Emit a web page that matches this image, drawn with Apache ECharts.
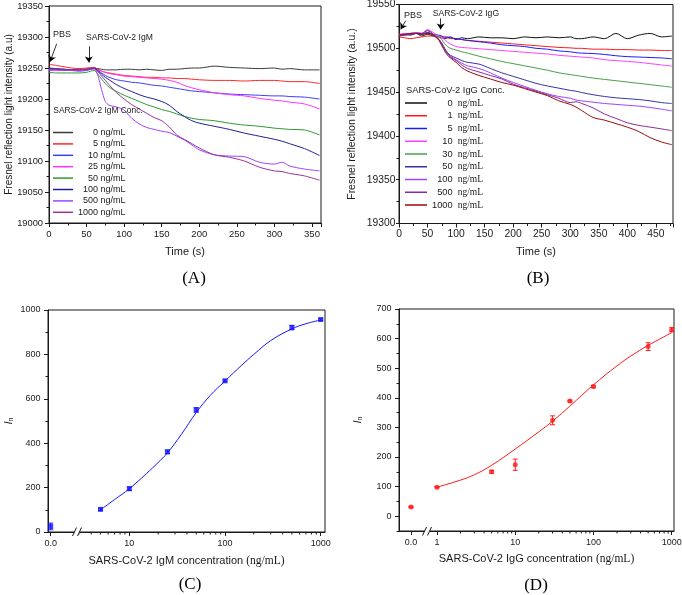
<!DOCTYPE html>
<html><head><meta charset="utf-8">
<script src="https://cdn.jsdelivr.net/npm/echarts@6/dist/echarts.min.js"></script>
<style>html,body{margin:0;padding:0;background:#fff}#c{width:682px;height:595px}</style>
</head><body><div id="c"></div>
<script>
// ---------- Panel A data (IgM sensorgrams) ----------
const timeA = [0,10,20,30,40,50,60,65,70,75,80,90,100,110,120,130,140,150,160,170,180,190,200,220,240,260,280,300,310,320,340,360];
const concLabelsA = ['0','5','10','25','50','100','500','1000'];
const igm0    = [19248,19248,19248,19247,19248,19248,19249,19249,19248,19247,19247,19247,19248,19248,19247,19248,19247,19246,19248,19248,19249,19250,19250,19253,19251,19250,19249,19250,19248,19249,19247,19247];
const igm5    = [19256,19254,19252,19250,19249,19250,19251,19248,19245,19243,19242,19240,19238,19237,19236,19235,19235,19234,19234,19233,19233,19232,19231,19230,19230,19229,19230,19230,19229,19228,19228,19225];
const igm10   = [19249,19248,19247,19246,19245,19246,19249,19246,19242,19238,19235,19231,19229,19227,19226,19224,19222,19221,19219,19217,19215,19213,19212,19210,19208,19207,19206,19205,19205,19204,19203,19200];
const igm25   = [19246,19246,19246,19246,19246,19248,19250,19247,19245,19243,19241,19239,19237,19236,19235,19234,19233,19232,19230,19227,19222,19218,19215,19210,19207,19205,19201,19198,19197,19195,19192,19184];
const igm50   = [19243,19242,19242,19242,19242,19243,19246,19240,19232,19225,19219,19212,19206,19201,19196,19191,19187,19183,19180,19176,19172,19169,19167,19165,19161,19158,19156,19153,19152,19151,19150,19142];
const igm100  = [19250,19249,19248,19247,19247,19248,19250,19246,19240,19235,19231,19223,19217,19212,19207,19203,19200,19196,19190,19180,19172,19165,19161,19156,19151,19145,19140,19135,19132,19128,19120,19109];
const igm500  = [19247,19247,19246,19246,19247,19247,19249,19238,19215,19196,19190,19187,19182,19169,19160,19154,19151,19148,19146,19140,19134,19126,19118,19110,19108,19107,19098,19095,19098,19092,19087,19084];
const igm1000 = [19248,19248,19247,19247,19247,19248,19249,19244,19237,19230,19223,19210,19200,19191,19184,19177,19170,19165,19155,19142,19135,19128,19121,19110,19106,19100,19090,19084,19083,19080,19076,19069];
const yTicksA = {min:19000, max:19350, step:50};
const xTicksA = {min:0, max:362, step:50};

// ---------- Panel B data (IgG sensorgrams) ----------
const timeB = [0,10,20,30,40,50,60,70,75,80,85,90,100,110,120,140,160,180,200,220,240,260,280,300,310,320,340,360,380,400,420,440,460,478];
const concLabelsB = ['0','1','5','10','30','50','100','500','1000'];
const igg0    = [19514,19516,19515,19517,19514,19516,19514,19513,19512,19511,19512,19513,19510,19512,19511,19513,19512,19512,19511,19513,19512,19513,19512,19513,19511,19511,19513,19511,19517,19511,19515,19517,19513,19514];
const igg1    = [19513,19512,19511,19512,19513,19514,19514,19513,19513,19512,19512,19511,19511,19510,19509,19508,19507,19506,19505,19504,19503,19502,19501,19500.5,19500,19500,19499,19499,19498.5,19498.5,19498,19498,19497.5,19497.5];
const igg5    = [19515,19516,19516,19517,19516,19518,19516,19515,19514,19513,19513,19512,19511,19510,19509,19507.5,19506,19504,19503,19502,19500,19499,19497,19496,19495,19494.5,19494,19493,19491.5,19490.5,19490,19489.5,19489,19488];
const igg10   = [19516,19517,19517,19518,19517,19521,19518,19514,19512,19510,19507,19505,19502,19501,19500.5,19499.5,19498.5,19497.5,19496.5,19495.5,19494.5,19493.5,19492,19491,19490.5,19490,19489,19487,19486,19485,19484,19482.5,19481,19479.5];
const igg30   = [19515,19516,19516,19517,19516,19517,19516,19513,19510,19505,19502,19500,19498,19496,19494.5,19491,19488,19485,19482.5,19480,19477.5,19475,19472,19470,19469,19468,19466,19464.5,19463,19461.5,19460,19458.5,19457,19455.5];
const igg50   = [19514,19515,19516,19517,19516,19518,19515,19510,19506,19500,19495,19492,19489,19486,19484,19482,19477,19472,19468,19464,19460,19457,19454.5,19452,19451,19449.5,19447,19445,19443.5,19442.5,19441.5,19440,19438,19437];
const igg100  = [19515,19516,19517,19518,19517,19521,19516,19510,19505,19499,19494,19491,19487,19483,19480,19477,19472,19466,19461,19456.5,19452,19448,19445,19443,19441,19440,19438.5,19437,19436,19435,19434,19432.5,19430.5,19428.5];
const igg500  = [19515,19515,19516,19517,19517,19520,19516,19510,19505,19499,19494,19490,19486,19481,19477,19473,19469,19465,19459,19455,19451,19447,19443,19438,19439,19437,19432,19425,19420,19415,19412,19410,19408,19406];
const igg1000 = [19515,19516,19517,19517,19516,19517,19515,19509,19503,19497,19492,19489,19484,19478,19474,19469,19465,19461,19458,19454,19450,19446,19440,19436,19433,19429,19421,19418,19414,19410,19405,19398,19393,19390];
const yTicksB = {min:19300, max:19550, step:50};
const xTicksB = {min:0, max:480, step:50};

// ---------- Panel C data (IgM calibration) ----------
const concC = [5,10,25,50,100,500,1000];
const inC   = [102,195,361,550,681,921,957];
const errC  = [5,8,8,10,5,10,4];
const zeroC = [25], zeroErrC = [15];
const fitXC = [5,7,10,15,20,25,35,50,70,100,150,200,300,500,700,1000];
const fitYC = [100,146,195,262,313,356,440,538,615,680,752,800,862,915,938,955];
const xLabelsC = [10,100,1000];
const minorC = [3,4,5,6,7,8,9,20,30,40,50,60,70,80,90,200,300,400,500,600,700,800,900];

// ---------- Panel D data (IgG calibration) ----------
const concD = [1,5,10,30,50,100,500,1000];
const inD   = [98,150,174,324,389,438,573,630];
const errD  = [2,5,19,15,3,4,13,7];
const zeroD = [31.5], zeroErrD = [2];
const fitXD = [1,2,3,5,10,20,30,50,100,200,300,500,1000];
const fitYD = [98,122,140,172,227,285,321,372,444,508,541,577,620];
const yLabelsD = [0,100,200,300,400,500,600,700];
const yMinorD = [-50,50,150,250,350,450,550,650];
const minorD = [2,3,4,5,6,7,8,9,20,30,40,50,60,70,80,90,200,300,400,500,600,700,800,900];

// ---------- styling ----------
const SANS = 'Liberation Sans, Arial, sans-serif';
const SERIF = 'Liberation Serif, Times New Roman, serif';
const INK = '#1a1a1a';
const colA = ['#3a3a3a','#ff2626','#3d3dff','#ff33ff','#2e9a2e','#1e1e96','#a043ff','#993399'];
const colB = ['#111111','#ff1a1a','#1a1aff','#ff40ff','#45a045','#3535a8','#a043ff','#8a2d9a','#990b0b'];
const BLUE = '#1515ff', RED = '#ff1a1a';

function merge(a, b){
  const o = Object.assign({}, a);
  for (const k in b){
    if (b[k] && typeof b[k] === 'object' && !Array.isArray(b[k]) && o[k] && typeof o[k] === 'object') o[k] = Object.assign({}, o[k], b[k]);
    else o[k] = b[k];
  }
  return o;
}
const plainFmt = v => String(v);
const baseAxis = {
  type:'value', splitLine:{show:false}, nameMoveOverlap:false,
  axisLine:{show:true, onZero:false, lineStyle:{color:INK, width:1}},
  axisTick:{show:true, length:4, lineStyle:{color:INK, width:1}},
  minorTick:{show:false},
  axisLabel:{color:INK, fontFamily:SANS, fontSize:9.5, formatter:plainFmt}
};
const intFmt = v => (Math.abs(v - Math.round(v)) < 1e-6 ? String(Math.round(v)) : '');
const gridBase = {containLabel:false, outerBoundsMode:'none'};

function line(name, xi, yi, xs, ys, color, smooth){
  return {type:'line', name, xAxisIndex:xi, yAxisIndex:yi, data:xs.map((x,i)=>[x, ys[i]]),
    symbol:'none', smooth: smooth, lineStyle:{color, width:1}, itemStyle:{color}, animation:false, z:2};
}
function errBars(xi, yi, xs, ys, es, color){
  return {type:'custom', xAxisIndex:xi, yAxisIndex:yi, data:xs.map((x,i)=>[x, ys[i], es[i]]), animation:false, z:3,
    renderItem:(p, api)=>{
      const x = api.value(0), y = api.value(1), e = api.value(2);
      const t = api.coord([x, y+e]), b = api.coord([x, y-e]); const w = 2.5;
      const st = {stroke:color, lineWidth:1};
      return {type:'group', children:[
        {type:'line', shape:{x1:t[0],y1:t[1],x2:b[0],y2:b[1]}, style:st},
        {type:'line', shape:{x1:t[0]-w,y1:t[1],x2:t[0]+w,y2:t[1]}, style:st},
        {type:'line', shape:{x1:b[0]-w,y1:b[1],x2:b[0]+w,y2:b[1]}, style:st}]};
    }};
}
function pts(xi, yi, xs, ys, sym, color){
  return {type:'scatter', xAxisIndex:xi, yAxisIndex:yi, data:xs.map((x,i)=>[x, ys[i]]), symbol:sym, symbolSize:5,
    itemStyle:{color}, animation:false, z:4};
}
function minorTicks(xi, yi, xs, yBase){
  return {type:'custom', xAxisIndex:xi, yAxisIndex:yi, data:xs.map(x=>[x, yBase]), animation:false, silent:true, z:5,
    renderItem:(p, api)=>{ const q = api.coord([api.value(0), api.value(1)]);
      return {type:'line', shape:{x1:q[0],y1:q[1],x2:q[0],y2:q[1]+2.5}, style:{stroke:INK, lineWidth:1}}; }};
}

const namesA = concLabelsA.map(c=>'A_'+c);
const namesB = concLabelsB.map(c=>'B_'+c);
const seriesA = [igm0,igm5,igm10,igm25,igm50,igm100,igm500,igm1000].map((d,i)=>line(namesA[i],0,0,timeA,d,colA[i],0.3));
const seriesB = [igg0,igg1,igg5,igg10,igg30,igg50,igg100,igg500,igg1000].map((d,i)=>line(namesB[i],1,1,timeB,d,colB[i],0.3));

const arrowStyle = {silent:true, symbol:['none','arrow'], symbolSize:6, animation:false,
  lineStyle:{color:'#000', width:0.8, type:'solid'}, label:{show:false}, emphasis:{disabled:true}};
seriesA[0].markLine = Object.assign({}, arrowStyle, {data:[
  [{coord:[10.2,19289]},{coord:[1.3,19260]}],
  [{coord:[53,19285]},{coord:[53,19259]}]]});
seriesB[0].markLine = Object.assign({}, arrowStyle, {data:[
  [{coord:[11.7,19531.5]},{coord:[3,19521.7]}],
  [{coord:[73,19534.2]},{coord:[73,19521.6]}]]});

// legend rich styles: right-aligned numbers via per-length left padding
function legendRich(fs, digitW, numFont, unitStyle){
  const r = {u: unitStyle};
  for (let k = 1; k <= 4; k++) r['n'+k] = {fontFamily:numFont, fontSize:fs, color:INK, padding:[0,0,0,(4-k)*digitW]};
  return r;
}

const option = {
  backgroundColor:'#fff',
  animation:false,
  grid:[
    merge(gridBase,{left:49, top:6, width:272, height:217, show:true, borderColor:INK, borderWidth:1}),
    merge(gridBase,{left:399, top:4.5, width:274, height:219, show:true, borderColor:INK, borderWidth:1}),
    merge(gridBase,{left:48, top:310, width:28, height:222}),
    merge(gridBase,{left:76, top:310, width:249, height:222}),
    merge(gridBase,{left:399, top:309, width:28, height:222}),
    merge(gridBase,{left:427, top:309, width:247, height:222}),
    merge(gridBase,{left:48, top:310, width:277, height:222, show:true, borderColor:INK, borderWidth:1}),
    merge(gridBase,{left:399, top:309, width:275, height:222, show:true, borderColor:INK, borderWidth:1})
  ],
  xAxis:[
    merge(baseAxis,{gridIndex:0, min:xTicksA.min, max:xTicksA.max, interval:xTicksA.step,
      minorTick:{show:true, splitNumber:2, length:2.5, lineStyle:{color:INK}},
      axisLabel:{fontSize:9.5, margin:6.5, showMaxLabel:false},
      name:'Time (s)', nameLocation:'middle', nameGap:23, nameTextStyle:{fontFamily:SANS, fontSize:11, color:INK}}),
    merge(baseAxis,{gridIndex:1, min:xTicksB.min, max:xTicksB.max, interval:xTicksB.step,
      minorTick:{show:true, splitNumber:2, length:2.5, lineStyle:{color:INK}},
      axisLabel:{fontSize:10.3, margin:6, showMaxLabel:false},
      name:'Time (s)', nameLocation:'middle', nameGap:23, nameTextStyle:{fontFamily:SANS, fontSize:11, color:INK}}),
    merge(baseAxis,{gridIndex:2, min:-1, max:9.37,
      axisLabel:{fontSize:9, margin:7, customValues:[0], formatter:v=>(v===0?'0.0':'')},
      axisTick:{customValues:[0]}}),
    merge(baseAxis,{gridIndex:3, type:'log', logBase:10, min:2.77, max:1109,
      axisLabel:{fontSize:9, margin:7, showMinLabel:false, showMaxLabel:false, formatter:v=>(xLabelsC.includes(Math.round(v))?String(Math.round(v)):'')}}),
    merge(baseAxis,{gridIndex:4, min:-1, max:1.333,
      axisLabel:{fontSize:9, margin:7, customValues:[0], formatter:v=>(v===0?'0.0':'')},
      axisTick:{customValues:[0]}}),
    merge(baseAxis,{gridIndex:5, type:'log', logBase:10, min:0.745, max:1070,
      axisLabel:{fontSize:9, margin:7, showMinLabel:false, showMaxLabel:false, formatter:intFmt}}),
    merge(baseAxis,{gridIndex:6, min:0, max:1, axisLine:{show:false}, axisTick:{show:false}, axisLabel:{show:false},
      name:'{s|SARS-CoV-2 IgM concentration }{t|(ng/mL)}', nameLocation:'middle', nameGap:23,
      nameTextStyle:{rich:{s:{fontFamily:SANS, fontSize:11, color:INK}, t:{fontFamily:SERIF, fontSize:11.5, color:INK}}}}),
    merge(baseAxis,{gridIndex:7, min:0, max:1, axisLine:{show:false}, axisTick:{show:false}, axisLabel:{show:false},
      name:'{s|SARS-CoV-2 IgG concentration }{t|(ng/mL)}', nameLocation:'middle', nameGap:22,
      nameTextStyle:{rich:{s:{fontFamily:SANS, fontSize:11, color:INK}, t:{fontFamily:SERIF, fontSize:11.5, color:INK}}}})
  ],
  yAxis:[
    merge(baseAxis,{gridIndex:0, min:yTicksA.min, max:yTicksA.max, interval:yTicksA.step,
      minorTick:{show:true, splitNumber:2, length:2.5, lineStyle:{color:INK}},
      axisLabel:{fontSize:9.3, margin:6},
      name:'Fresnel reflection light intensity (a.u)', nameLocation:'middle', nameGap:35,
      nameTextStyle:{fontFamily:SANS, fontSize:10, color:INK}}),
    merge(baseAxis,{gridIndex:1, min:yTicksB.min, max:yTicksB.max, interval:yTicksB.step,
      minorTick:{show:true, splitNumber:2, length:2.5, lineStyle:{color:INK}},
      axisTick:{length:3},
      axisLabel:{fontSize:10.3, margin:3.5},
      name:'Fresnel reflection light intensity (a.u.)', nameLocation:'middle', nameGap:41,
      nameTextStyle:{fontFamily:SANS, fontSize:10.5, color:INK}}),
    merge(baseAxis,{gridIndex:2, min:0, max:1000, interval:200,
      minorTick:{show:true, splitNumber:2, length:2.5, lineStyle:{color:INK}},
      axisLabel:{fontSize:9, margin:7.5},
      name:'{i|I}{s|n}', nameLocation:'middle', nameGap:33,
      nameTextStyle:{rich:{i:{fontFamily:SANS, fontStyle:'italic', fontSize:11, color:INK}, s:{fontFamily:SANS, fontSize:7, color:INK, padding:[6,0,0,0]}}}}),
    merge(baseAxis,{gridIndex:3, min:0, max:1000, show:false}),
    merge(baseAxis,{gridIndex:4, min:-50, max:700, position:'left',
      axisLabel:{fontSize:9, margin:7.5, customValues:yLabelsD},
      axisTick:{customValues:yLabelsD},
      name:'{i|I}{s|n}', nameLocation:'middle', nameGap:35,
      nameTextStyle:{rich:{i:{fontFamily:SANS, fontStyle:'italic', fontSize:11, color:INK}, s:{fontFamily:SANS, fontSize:7, color:INK, padding:[6,0,0,0]}}}}),
    merge(baseAxis,{gridIndex:5, min:-50, max:700, show:false}),
    merge(baseAxis,{gridIndex:6, min:0, max:1, show:false}),
    merge(baseAxis,{gridIndex:7, min:0, max:1, show:false}),
    merge(baseAxis,{gridIndex:4, min:-50, max:700, position:'left', axisLine:{show:false}, axisLabel:{show:false},
      axisTick:{length:2.5, customValues:yMinorD}})
  ],
  legend:[
    {data:namesA, orient:'vertical', left:53, top:128, padding:0, itemGap:2.4, itemWidth:20, itemHeight:1.5,
     icon:'rect', selectedMode:false,
     formatter:n=>{ const c = n.slice(2); return '{n'+c.length+'|'+c+'}{u| ng/mL}'; },
     textStyle:{rich:legendRich(9, 5, SANS, {fontFamily:SANS, fontSize:9, color:INK})}},
    {data:namesB, orient:'vertical', left:405, top:98, padding:0, itemGap:2.75, itemWidth:22, itemHeight:1.5,
     icon:'rect', selectedMode:false,
     formatter:n=>{ const c = n.slice(2); return '{n'+c.length+'|'+c+'}{u|ng/mL}'; },
     textStyle:{rich:legendRich(9.3, 5.17, SANS, {fontFamily:SERIF, fontSize:9.5, color:INK, padding:[0,0,0,5]})}}
  ],
  graphic:[
    {type:'text', left:53, top:30, z:100, style:{text:'PBS', font:'9px '+SANS, fill:INK}},
    {type:'text', left:86, top:33, z:100, style:{text:'SARS-CoV-2 IgM', font:'8.6px '+SANS, fill:INK}},
    {type:'text', left:53.3, top:107, z:100, style:{text:'SARS-CoV-2 IgM Conc.', font:'8.4px '+SANS, fill:INK}},
    {type:'text', left:404, top:11, z:100, style:{text:'PBS', font:'9px '+SANS, fill:INK}},
    {type:'text', left:432.7, top:9.5, z:100, style:{text:'SARS-CoV-2 IgG', font:'8.6px '+SANS, fill:INK}},
    {type:'text', left:406, top:85.5, z:100, style:{text:'SARS-CoV-2 IgG Conc.', font:'9.3px '+SANS, fill:INK}},
    {type:'text', x:194, y:279, z:100, style:{text:'(A)', font:'17px '+SERIF, fill:'#000', align:'center', verticalAlign:'middle'}},
    {type:'text', x:538, y:279, z:100, style:{text:'(B)', font:'17px '+SERIF, fill:'#000', align:'center', verticalAlign:'middle'}},
    {type:'text', x:190, y:585, z:100, style:{text:'(C)', font:'17px '+SERIF, fill:'#000', align:'center', verticalAlign:'middle'}},
    {type:'text', x:536, y:586, z:100, style:{text:'(D)', font:'17px '+SERIF, fill:'#000', align:'center', verticalAlign:'middle'}},
    {type:'rect', z:100, shape:{x:74.5, y:529, width:5, height:6}, style:{fill:'#fff'}},
    {type:'line', z:101, shape:{x1:72.5,y1:536,x2:76.5,y2:527.5}, style:{stroke:INK, lineWidth:1}},
    {type:'line', z:101, shape:{x1:77.5,y1:536,x2:81.5,y2:527.5}, style:{stroke:INK, lineWidth:1}},
    {type:'rect', z:100, shape:{x:424.5, y:528.5, width:5, height:6}, style:{fill:'#fff'}},
    {type:'line', z:101, shape:{x1:422.5,y1:535.5,x2:426.5,y2:527}, style:{stroke:INK, lineWidth:1}},
    {type:'line', z:101, shape:{x1:427.5,y1:535.5,x2:431.5,y2:527}, style:{stroke:INK, lineWidth:1}}
  ],
  series:[].concat(seriesA, seriesB, [
    line('fitC',3,3,fitXC,fitYC,BLUE,0.4),
    errBars(3,3,concC,inC,errC,BLUE),
    pts(3,3,concC,inC,'rect',BLUE),
    errBars(2,2,[0],zeroC,zeroErrC,BLUE),
    pts(2,2,[0],zeroC,'rect',BLUE),
    minorTicks(3,3,minorC,0),
    line('fitD',5,5,fitXD,fitYD,RED,0.4),
    errBars(5,5,concD,inD,errD,RED),
    pts(5,5,concD,inD,'circle',RED),
    errBars(4,4,[0],zeroD,zeroErrD,RED),
    pts(4,4,[0],zeroD,'circle',RED),
    minorTicks(5,5,minorD,-50)
  ])
};
const chart = echarts.init(document.getElementById('c'), null, {renderer:'canvas'});
chart.setOption(option);
</script>
</body></html>
